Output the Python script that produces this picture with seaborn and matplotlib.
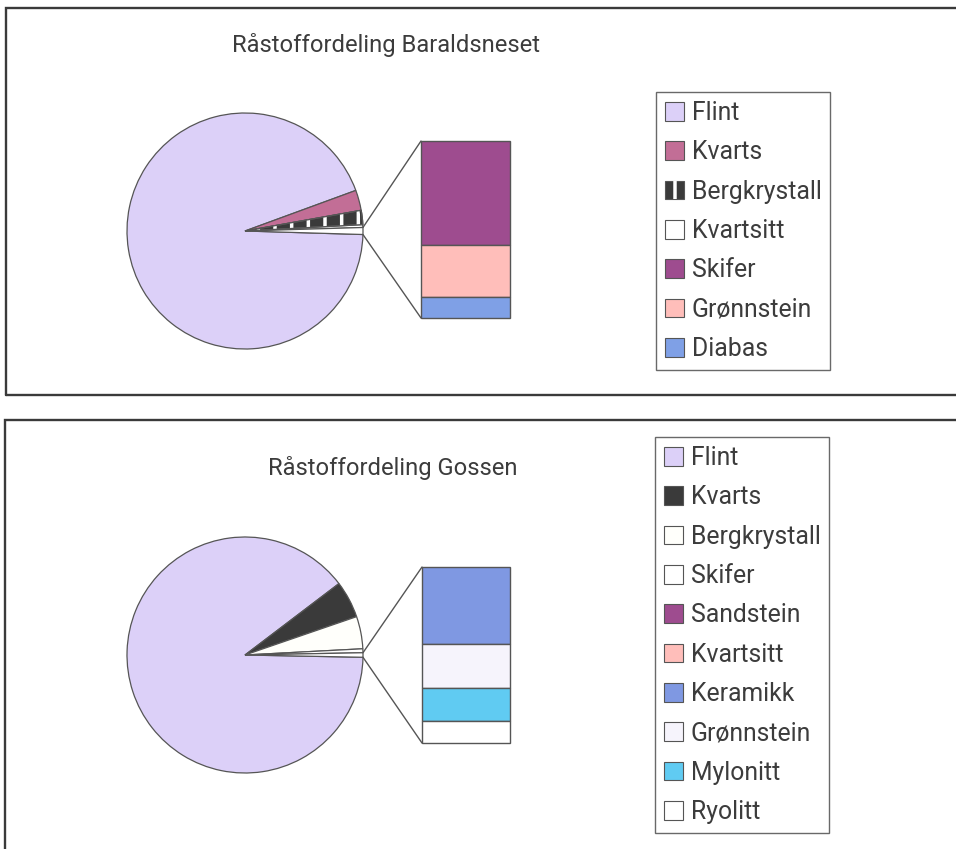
import numpy as np
import matplotlib
matplotlib.use("Agg")
import matplotlib.pyplot as plt
import seaborn as sns
from matplotlib.patches import Patch, Wedge, ConnectionPatch

# ---------------- data ----------------
title_a = "Råstoffordeling Baraldsneset"
pie_labels_a = ["Flint", "Kvarts", "Bergkrystall", "Kvartsitt"]
pie_values_a = [1690, 50, 35, 7]
bar_labels_a = ["Skifer", "Grønnstein", "Diabas"]
bar_values_a = [10, 5, 2]

title_b = "Råstoffordeling Gossen"
pie_labels_b = ["Flint", "Kvarts", "Bergkrystall", "Skifer"]
pie_values_b = [2341, 133, 116, 14]
bar_labels_b = ["Sandstein", "Kvartsitt", "Keramikk", "Grønnstein", "Mylonitt", "Ryolitt"]
bar_values_b = [0, 0, 7, 4, 3, 2]

pie_colors_a = ["#DCD0F8", "#C26E96", "#3A3A3A", "#FFFFFF"]
bar_colors_a = ["#9E4C8F", "#FFBEBA", "#7FA0E6"]
pie_colors_b = ["#DCD0F8", "#3A3A3A", "#FFFFFB", "#FFFFFF"]
bar_colors_b = ["#9E4C8F", "#FFBEBA", "#7F98E2", "#F6F4FC", "#60CBF2", "#FFFFFF"]

# ---------------- style ----------------
sns.set_theme(style="white")
plt.rcParams["font.family"] = ["Roboto", "DejaVu Sans"]
plt.rcParams["hatch.linewidth"] = 2.5
TXT = "#3C3C3C"
EDGE = "#555555"
FS_TITLE = 17.1
FS_LEG = 17.8

W, H = 956, 849
fig = plt.figure(figsize=(W / 100, H / 100), dpi=100)


def box(x, y, w, h):
    return [x / W, 1 - (y + h) / H, w / W, h / H]


# background axes in pixel coordinates for frames and titles
bg = fig.add_axes([0, 0, 1, 1])
bg.set_xlim(0, W)
bg.set_ylim(H, 0)
bg.axis("off")
bg.plot([6, 6, W + 5], [395, 8, 8], color="#3A3A3A", lw=1.7, solid_joinstyle="miter")
bg.plot([6, W + 5], [395, 395], color="#3A3A3A", lw=1.7)
bg.plot([5, 5, W + 5], [H + 5, 420, 420], color="#3A3A3A", lw=1.7, solid_joinstyle="miter")


def panel(title, tx, ty, cx, cy, r, pie_labels, pie_values, pie_colors,
          bar_labels, bar_values, bar_colors, bar_box, hatch_idx, leg_xy):
    bg.text(tx, ty, title, fontsize=FS_TITLE, color=TXT, va="center", ha="left")
    m = 1.03
    axp = fig.add_axes(box(cx - r * m, cy - r * m, 2 * r * m, 2 * r * m))
    other = sum(bar_values)
    vals = list(pie_values) + [other]
    cols = list(pie_colors) + ["#FFFFFF"]
    total = sum(vals)
    other_deg = other / total * 360
    wedges, _ = axp.pie(vals, colors=cols, startangle=-other_deg / 2,
                        counterclock=False, radius=1,
                        wedgeprops=dict(edgecolor=EDGE, linewidth=0.9))
    if hatch_idx is not None:
        w = wedges[hatch_idx]
        hw = Wedge((0, 0), 0.985, w.theta1, w.theta2, fill=False, hatch="|",
                   edgecolor="white", linewidth=0)
        axp.add_patch(hw)
        ew = Wedge((0, 0), 1, w.theta1, w.theta2, fill=False,
                   edgecolor=EDGE, linewidth=0.9)
        axp.add_patch(ew)
    axp.set_xlim(-m, m)
    axp.set_ylim(-m, m)
    axp.set_aspect("equal")
    axp.axis("off")

    axb = fig.add_axes(box(*bar_box))
    btot = sum(bar_values)
    bottoms = btot - np.cumsum(bar_values)
    for v, b, c in zip(bar_values, bottoms, bar_colors):
        if v > 0:
            axb.bar(0.5, v, bottom=b, width=1, color=c, edgecolor=EDGE,
                    linewidth=1.0, clip_on=False)
    axb.set_xlim(0, 1)
    axb.set_ylim(0, btot)
    axb.axis("off")

    ow = wedges[-1]
    t1, t2 = np.radians(ow.theta1), np.radians(ow.theta2)
    for th, yb in [(t2, btot), (t1, 0)]:
        con = ConnectionPatch(xyA=(np.cos(th), np.sin(th)), coordsA=axp.transData,
                              xyB=(0, yb), coordsB=axb.transData,
                              color=EDGE, lw=1.0)
        fig.add_artist(con)

    handles = []
    for i, (lab, c) in enumerate(zip(pie_labels, pie_colors)):
        if i == hatch_idx:
            handles.append((Patch(facecolor=c, edgecolor=EDGE, lw=0.8),
                            Patch(fill=False, hatch="|", edgecolor="white", lw=0)))
        else:
            handles.append(Patch(facecolor=c, edgecolor=EDGE, lw=0.8))
    for c in bar_colors:
        handles.append(Patch(facecolor=c, edgecolor=EDGE, lw=0.8))
    labels = list(pie_labels) + list(bar_labels)
    leg = fig.legend(handles, labels, loc="upper left",
                     bbox_to_anchor=(leg_xy[0] / W, 1 - leg_xy[1] / H),
                     bbox_transform=fig.transFigure, frameon=True, fancybox=False,
                     edgecolor="#444444", borderaxespad=0, fontsize=FS_LEG,
                     handlelength=0.78, handleheight=0.78, handletextpad=0.3,
                     labelspacing=0.62, borderpad=0.36, labelcolor=TXT)
    leg.get_frame().set_linewidth(1.0)


panel(title_a, 232, 45, 245, 231, 118, pie_labels_a, pie_values_a, pie_colors_a,
      bar_labels_a, bar_values_a, bar_colors_a, (421, 141, 89, 177), 2, (656, 92))
panel(title_b, 268, 468, 245, 655, 118, pie_labels_b, pie_values_b, pie_colors_b,
      bar_labels_b, bar_values_b, bar_colors_b, (422, 567, 88, 176), None, (655, 437))

fig.savefig("out.png", dpi=100)
